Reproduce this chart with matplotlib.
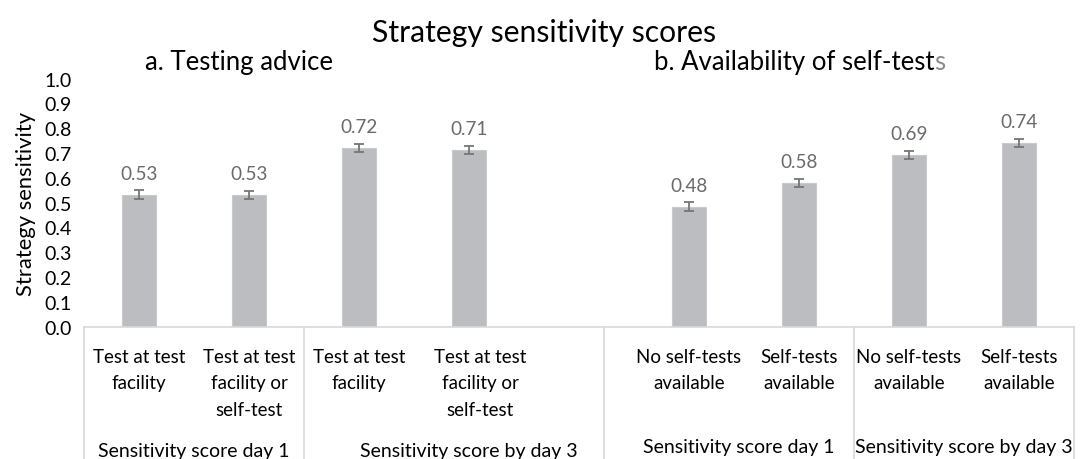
import matplotlib
matplotlib.use("Agg")
import matplotlib.pyplot as plt
from matplotlib.transforms import blended_transform_factory, ScaledTranslation

# ---- data ----
categories = [
    "Test at test\nfacility",
    "Test at test\nfacility or\nself-test",
    "Test at test\nfacility",
    "Test at test\nfacility or\nself-test",
    "No self-tests\navailable",
    "Self-tests\navailable",
    "No self-tests\navailable",
    "Self-tests\navailable",
]
values = [0.533, 0.530, 0.722, 0.713, 0.484, 0.579, 0.693, 0.741]
errors = [0.018, 0.017, 0.016, 0.016, 0.018, 0.017, 0.015, 0.016]
groups = ["Sensitivity score day 1", "Sensitivity score by day 3",
          "Sensitivity score day 1", "Sensitivity score by day 3"]
y_ticks = [0.0, 0.1, 0.2, 0.3, 0.4, 0.5, 0.6, 0.7, 0.8, 0.9, 1.0]

# slot positions (slot 4 is empty, between the two panels)
positions = [0, 1, 2, 3, 5, 6, 7, 8]
group_centers = [0.5, 3.0, 5.45, 7.5]
group_label_y = [-0.50, -0.50, -0.482, -0.482]
separators = [-0.5, 1.5, 4.227, 6.5, 8.5]

FONT = "Lato"
plt.rcParams["font.family"] = [FONT, "DejaVu Sans"]

W, H = 1085, 460
fig = plt.figure(figsize=(W / 100, H / 100), dpi=100)
x0, x1 = 84, 1074
ybot, ytop = 327.7, 79.7
ax = fig.add_axes([x0 / W, (H - ybot) / H, (x1 - x0) / W, (ybot - ytop) / H])

bar_color = "#bcbdc0"
ax.bar(positions, values, width=0.31, color=bar_color, edgecolor="#c9cacc",
       linewidth=0.8, zorder=2)
ax.errorbar(positions, values, yerr=errors, fmt="none", ecolor="#767676",
            elinewidth=1.3, capsize=3.3, capthick=1.3, zorder=3)
for x, v in zip(positions, values):
    ax.annotate(f"{v:.2f}", (x, v), xytext=(0, 11.5), textcoords="offset points",
                ha="center", va="baseline", fontsize=13.6, color="#6a6a6a")

ax.set_xlim(-0.5, 8.5)
ax.set_ylim(0, 1.0)
ax.set_yticks(y_ticks)
ax.set_yticklabels([f"{t:.1f}" for t in y_ticks], fontsize=14, color="#000000")
ax.tick_params(axis="y", length=0, pad=8.6)
ax.set_xticks(positions)
ax.set_xticklabels(categories, fontsize=13.5, linespacing=1.68, color="#000000")
ax.tick_params(axis="x", length=0, pad=15)
# shift slot-4 label slightly right as in reference
lbl = ax.get_xticklabels()[3]
lbl.set_transform(lbl.get_transform() + ScaledTranslation(0.11, 0, fig.dpi_scale_trans))

for s in ["top", "right", "left"]:
    ax.spines[s].set_visible(False)
ax.spines["bottom"].set_color("#d9d9d9")
ax.spines["bottom"].set_linewidth(1.2)

trans = blended_transform_factory(ax.transData, ax.transAxes)
bottom_frac = -(H - ybot) / (ybot - ytop)
for sx in separators:
    ax.plot([sx, sx], [0, bottom_frac], transform=trans, color="#d9d9d9",
            linewidth=1.2, clip_on=False)
for gx, gy, g in zip(group_centers, group_label_y, groups):
    ax.text(gx, gy, g, transform=trans, ha="center", va="center", fontsize=14,
            color="#000000")

ax.set_ylabel("Strategy sensitivity", fontsize=15.8, labelpad=6)

fig.text(544 / W, 1 - 42 / H, "Strategy sensitivity scores", ha="center",
         va="baseline", fontsize=21.7)
fig.text(239 / W, 1 - 70 / H, "a. Testing advice", ha="center", va="baseline",
         fontsize=18.5)
fig.text(934 / W, 1 - 70 / H, "b. Availability of self-test", ha="right",
         va="baseline", fontsize=18.5)
fig.text(934 / W, 1 - 70 / H, "s", ha="left", va="baseline", fontsize=18.5,
         color="#8c8c8c")

fig.savefig("out.png", dpi=100)
